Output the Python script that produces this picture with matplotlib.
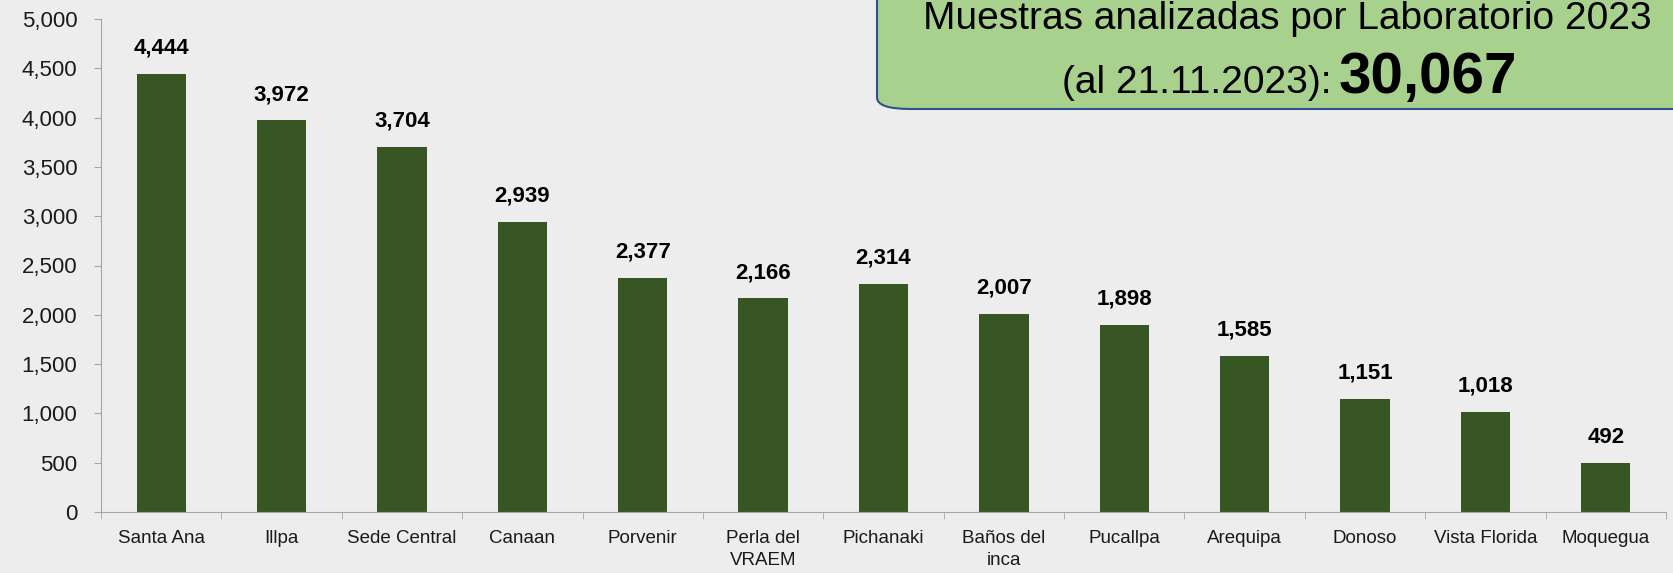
"""Muestras analizadas por laboratorio 2023 - bar chart."""

import matplotlib
matplotlib.use("Agg")
import matplotlib.pyplot as plt
from matplotlib.patches import FancyBboxPatch
from matplotlib.ticker import FuncFormatter, MultipleLocator

laboratorios = [
    "Santa Ana", "Illpa", "Sede Central", "Canaan", "Porvenir",
    "Perla del\nVRAEM", "Pichanaki", "Baños del\ninca", "Pucallpa",
    "Arequipa", "Donoso", "Vista Florida", "Moquegua",
]
muestras = [4444, 3972, 3704, 2939, 2377, 2166, 2314, 2007, 1898, 1585, 1151, 1018, 492]
total = "30,067"
titulo = "Muestras analizadas por Laboratorio 2023"
subtitulo = "(al 21.11.2023):"

BG = "#EDEDED"
BAR = "#375623"
AXIS = "#A6A6A6"

plt.rcParams["font.family"] = ["Liberation Sans", "DejaVu Sans"]

W, H = 1673, 573
fig = plt.figure(figsize=(W / 100, H / 100), dpi=100, facecolor=BG)
ax = fig.add_axes([101 / W, 1 - 512 / H, (1666 - 101) / W, (512 - 19) / H])
ax.set_facecolor(BG)

x = range(len(laboratorios))
ax.bar(x, muestras, width=0.41, color=BAR, zorder=2)
for xi, v in zip(x, muestras):
    ax.annotate(f"{v:,}", (xi, v), xytext=(0, 11), textcoords="offset points",
                ha="center", va="bottom", fontsize=16, fontweight="bold", color="black")

ax.set_xlim(-0.5, len(laboratorios) - 0.5)
ax.set_ylim(0, 5000)
ax.yaxis.set_major_locator(MultipleLocator(500))
ax.yaxis.set_major_formatter(FuncFormatter(lambda v, _: f"{int(v):,}"))
ax.set_xticks(list(x))
ax.set_xticklabels(laboratorios, fontsize=13.5, color="#1A1A1A", linespacing=1.4,
                   va="top")
ax.set_xticks([i + 0.5 for i in range(-1, len(laboratorios))], minor=True)
ax.tick_params(axis="x", which="major", length=0, pad=13)
ax.tick_params(axis="x", which="minor", length=5, color=AXIS, direction="out")
ax.tick_params(axis="y", length=5, color=AXIS, labelsize=16, pad=12, labelcolor="#1A1A1A")

for side in ("top", "right"):
    ax.spines[side].set_visible(False)
for side in ("left", "bottom"):
    ax.spines[side].set_color(AXIS)

# caja resumen (sale por arriba y a la derecha)
box = FancyBboxPatch((877 / W, 1 - 109 / H), 0.6, 0.5,
                     boxstyle="round,pad=0,rounding_size=0.02",
                     transform=fig.transFigure, facecolor="#A9D18E",
                     edgecolor="#2F528F", linewidth=1.5, zorder=5)
fig.patches.append(box)

fig.text(1287 / W, 1 - 29 / H, titulo, ha="center", va="baseline",
         fontsize=28, color="black", zorder=6)
fig.text(1331 / W, 1 - 93 / H, subtitulo, ha="right", va="baseline",
         fontsize=28, color="black", zorder=6)
fig.text(1339 / W, 1 - 93 / H, total, ha="left", va="baseline",
         fontsize=42, fontweight="bold", color="black", zorder=6)

fig.savefig("out.png", dpi=100, facecolor=BG)
